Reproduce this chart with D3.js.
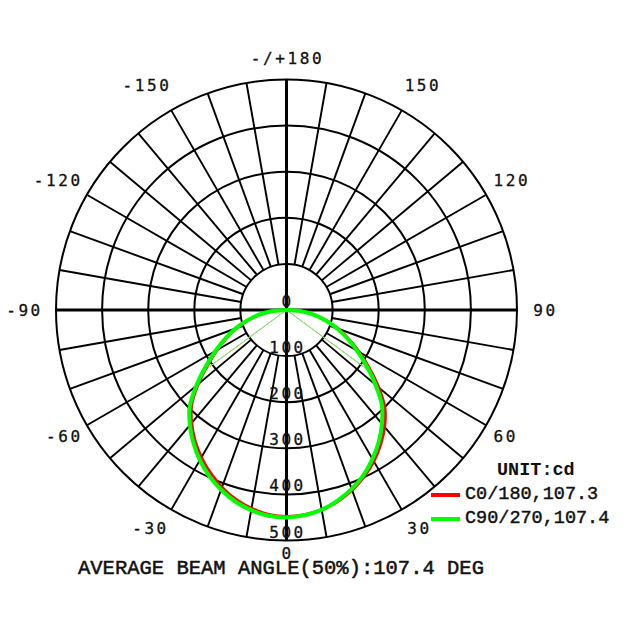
<!DOCTYPE html>
<html>
<head>
<meta charset="utf-8">
<script src="https://cdn.jsdelivr.net/npm/d3@7"></script>
<style>
  body { margin: 0; background: #fff; }
</style>
</head>
<body>
<div id="viz"></div>
<script>
const w = 640;
const h = 640;

// gamma angles (deg) for each half plane
const angles = [0, 5, 10, 15, 20, 25, 30, 35, 40, 45, 50, 55, 60, 65, 70, 75, 80, 85, 90];
// intensity in cd
const c0   = [448, 446, 440, 430, 416, 399, 379, 356, 331, 302, 261, 219, 182, 149, 120, 90, 63, 34, 0];
const c180 = [448, 445, 437, 425, 409, 390, 369, 346, 320, 291, 250, 209, 174, 143, 116, 87, 60, 32, 0];
const c90  = [450, 447, 440, 428, 413, 395, 373, 349, 322, 293, 252, 212, 177, 145, 117, 88, 61, 32, 0];
const c270 = [450, 448, 441, 430, 415, 397, 376, 352, 326, 297, 255, 214, 178, 146, 118, 89, 62, 33, 0];

const seriesNames = ['C0/180', 'C90/270'];
const beamAngles = [107.3, 107.4];
const seriesColors = ['#ff0000', '#00ff00'];
const beamLineColors = ['#ff6a6a', '#66ff66'];

const rings = [100, 200, 300, 400, 500];
const ringLabels = [0, 100, 200, 300, 400, 500];
const angleTicks = [0, 30, 60, 90, 120, 150, 180, -150, -120, -90, -60, -30];

const cx = 286.5;
const cy = 310;
const R = 230.5;

const svg = d3.select('#viz').append('svg')
    .attr('width', w)
    .attr('height', h)
    .style('background', '#fff');

const r = d3.scaleLinear().domain([0, 500]).range([0, R]);
// 0 deg at the bottom, positive to the right, 180 at the top
const a = d3.scaleLinear().domain([-180, 180]).range([2 * Math.PI, 0]);

const g = svg.append('g')
    .attr('transform', `translate(${cx},${cy})`);

function pt(deg, v) {
    return [r(v) * Math.sin(a(deg)), -r(v) * Math.cos(a(deg))];
}

// grid
const grid = g.append('g').attr('stroke', '#000').attr('fill', 'none');

grid.selectAll('circle')
    .data(rings)
    .join('circle')
    .attr('r', d => r(d))
    .attr('stroke-width', 2);

const spokes = d3.range(-180, 180, 10).filter(d => d % 90 !== 0);
grid.selectAll('line.spoke')
    .data(spokes)
    .join('line')
    .attr('class', 'spoke')
    .attr('x1', d => pt(d, rings[0])[0])
    .attr('y1', d => pt(d, rings[0])[1])
    .attr('x2', d => pt(d, 500)[0])
    .attr('y2', d => pt(d, 500)[1])
    .attr('stroke-width', 1.9);

grid.selectAll('line.axis')
    .data([0, 90])
    .join('line')
    .attr('class', 'axis')
    .attr('x1', d => pt(d, 500)[0])
    .attr('y1', d => pt(d, 500)[1])
    .attr('x2', d => pt(d - 180, 500)[0])
    .attr('y2', d => pt(d - 180, 500)[1])
    .attr('stroke-width', 3);

// ring labels
const labelFont = '"DejaVu Sans Mono", monospace';
g.selectAll('text.ring')
    .data(ringLabels)
    .join('text')
    .attr('class', 'ring')
    .attr('x', 1)
    .attr('y', d => r(d) - 3)
    .attr('text-anchor', 'middle')
    .attr('font-family', labelFont)
    .attr('font-size', 16)
    .attr('letter-spacing', 2.6)
    .attr('fill', '#111')
    .attr('stroke', '#111')
    .attr('stroke-width', 0.3)
    .text(d => d);

// angle labels
function labelPos(d) {
    const rl = 252 + (d === 0 ? -9 : 0) + (Math.abs(d) > 90 && Math.abs(d) < 180 ? 7 : 0);
    const s = Math.sin(a(d));
    const shift = Math.abs(d) % 60 === 30 ? 6 * Math.sign(s) : 0;
    return [rl * s + (d < 0 ? -5 : 0) + 1 + shift, -rl * Math.cos(a(d))];
}

g.selectAll('text.angle')
    .data(angleTicks)
    .join('text')
    .attr('class', 'angle')
    .attr('x', d => labelPos(d)[0])
    .attr('y', d => labelPos(d)[1])
    .attr('dy', '0.36em')
    .attr('text-anchor', 'middle')
    .attr('font-family', labelFont)
    .attr('font-size', 16)
    .attr('letter-spacing', 2.6)
    .attr('fill', '#111')
    .attr('stroke', '#111')
    .attr('stroke-width', 0.3)
    .text(d => d === 180 ? '-/+180' : d);

// curves
function halfPlanes(pos, neg) {
    const left = angles.map((d, i) => ({ deg: -d, v: neg[i] })).reverse();
    const right = angles.slice(1).map((d, i) => ({ deg: d, v: pos[i + 1] }));
    return left.concat(right);
}

const series = [halfPlanes(c0, c180), halfPlanes(c90, c270)];

const radial = d3.lineRadial()
    .angle(d => a(d.deg))
    .radius(d => r(d.v))
    .curve(d3.curveCatmullRom.alpha(0.5));

// beam angle lines
series.forEach((s, i) => {
    const half = d3.max(s, d => d.v) / 2;
    [beamAngles[i] / 2, -beamAngles[i] / 2].forEach(b => {
        const p = pt(b, half);
        g.append('line')
            .attr('x1', 0).attr('y1', 0)
            .attr('x2', p[0]).attr('y2', p[1])
            .attr('stroke', beamLineColors[i])
            .attr('stroke-width', 1);
    });
});

g.selectAll('path.curve')
    .data(series)
    .join('path')
    .attr('class', 'curve')
    .attr('d', radial)
    .attr('fill', 'none')
    .attr('stroke', (d, i) => seriesColors[i])
    .attr('stroke-width', (d, i) => i === 0 ? 3 : 4)
    .attr('stroke-linejoin', 'round');

// legend
const legendFont = '"Liberation Mono", "Courier New", monospace';
svg.append('text')
    .attr('x', 497)
    .attr('y', 475)
    .attr('font-family', legendFont)
    .attr('font-size', 18.5)
    .attr('font-weight', 'bold')
    .attr('fill', '#111')
    .text('UNIT:cd');

const legend = svg.selectAll('g.legend')
    .data(seriesNames)
    .join('g')
    .attr('class', 'legend')
    .attr('transform', (d, i) => `translate(431,${495 + i * 24})`);

legend.append('line')
    .attr('x1', 0).attr('x2', 29)
    .attr('stroke', (d, i) => seriesColors[i])
    .attr('stroke-width', 4);

legend.append('text')
    .attr('x', 34)
    .attr('y', 4)
    .attr('font-family', legendFont)
    .attr('font-size', 18.5)
    .attr('fill', '#111')
    .attr('stroke', '#111')
    .attr('stroke-width', 0.45)
    .text((d, i) => `${d},${beamAngles[i]}`);

svg.append('text')
    .attr('x', 78)
    .attr('y', 574)
    .attr('font-family', legendFont)
    .attr('font-size', 20.5)
    .attr('fill', '#111')
    .attr('stroke', '#111')
    .attr('stroke-width', 0.5)
    .text('AVERAGE BEAM ANGLE(50%):107.4 DEG');
</script>
</body>
</html>
